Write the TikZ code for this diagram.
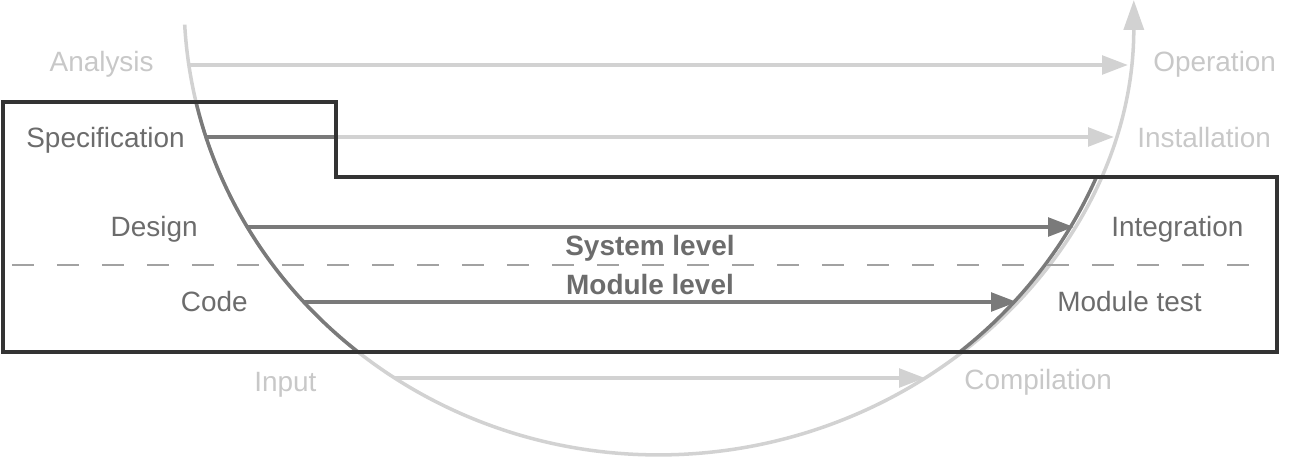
\documentclass[tikz,border=0pt]{standalone}
\usepackage{fontspec}
\setmainfont{Liberation Sans}
\usetikzlibrary{arrows.meta}
\definecolor{pale}{HTML}{D2D2D2}
\definecolor{paletxt}{HTML}{C8C8C8}
\definecolor{mid}{HTML}{7A7A7A}
\definecolor{midtxt}{HTML}{6C6C6C}
\definecolor{frame}{HTML}{333333}
\definecolor{levelline}{HTML}{A2A2A2}
\tikzset{
  lbl/.style={font=\fontsize{15.9pt}{19pt}\selectfont, inner sep=0pt, text=midtxt},
  dim/.style={lbl, text=paletxt},
  hd/.style={lbl, font=\fontsize{15.9pt}{19pt}\selectfont\bfseries},
  arr/.style={-{Triangle[length=0.52cm, width=0.37cm]}, line width=2.3pt, mid},
  farr/.style={arr, pale},
  cyc/.style={line width=2pt},
}

\begin{document}
\begin{tikzpicture}[x=0.02cm,y=0.02cm]
\useasboundingbox (-659,-462) rectangle (653,0);
% cycle and the light phases
\draw[cyc, pale, -{Triangle[length=0.6cm, width=0.4cm]}] (-474.3,-24.6) arc[start angle=183.1, end angle=360, x radius=9.5cm, y radius=9.1cm];
\coordinate (a1) at (-470,-65); \coordinate (a2) at (469,-65);
\coordinate (s1) at (-453,-137); \coordinate (s2) at (455,-137);
\coordinate (d1) at (-412,-227); \coordinate (d2) at (415,-227);
\coordinate (c1) at (-355,-302); \coordinate (c2) at (358,-302);
\coordinate (i1) at (-264,-378); \coordinate (i2) at (266,-378);
\draw[farr] (a1) -- (a2);
\draw[farr] (s1) -- (s2);
\draw[farr] (i1) -- (i2);
% darker inside the frame
\begin{scope}
\clip (-656,-102) -- (-323,-102) -- (-323,-177) -- (618,-177) -- (618,-352) -- (-656,-352) -- cycle;
\draw[cyc, mid] (-474.3,-24.6) arc[start angle=183.1, end angle=360, x radius=9.5cm, y radius=9.1cm];
\draw[line width=2.3pt, mid] (s1) -- (s2);
\end{scope}
\draw[arr] (d1) -- (d2);
\draw[arr] (c1) -- (c2);
\draw[levelline, line width=1.6pt, dash pattern=on 0.44cm off 0.46cm] (-647,-265) coordinate (l1) -- (599,-265) coordinate (l2);
\draw[frame, line width=2.4pt] (-656,-102) -- (-323,-102) -- (-323,-177) -- (618,-177) -- (618,-352) -- (-656,-352) -- cycle;
% labels
\node[dim, anchor=base east] (ana) at (-505,-72) {Analysis};
\node[dim, anchor=base west] (ope) at (494,-72) {Operation};
\node[lbl, anchor=base west] (spe) at (-633,-148) {Specification};
\node[dim, anchor=base west] (ins) at (478,-148) {Installation};
\node[lbl, anchor=base east] (des) at (-461,-237) {Design};
\node[lbl, anchor=base west] (int) at (452,-237) {Integration};
\node[hd, anchor=base] (sys) at (-9,-256) {System level};
\node[hd, anchor=base] (mod) at (-9,-295) {Module level};
\node[lbl, anchor=base east] (cod) at (-411,-312) {Code};
\node[lbl, anchor=base west] (mte) at (398,-312) {Module test};
\node[dim, anchor=base west] (inp) at (-405,-392) {Input};
\node[dim, anchor=base west] (com) at (305,-390) {Compilation};
\end{tikzpicture}
\end{document}
